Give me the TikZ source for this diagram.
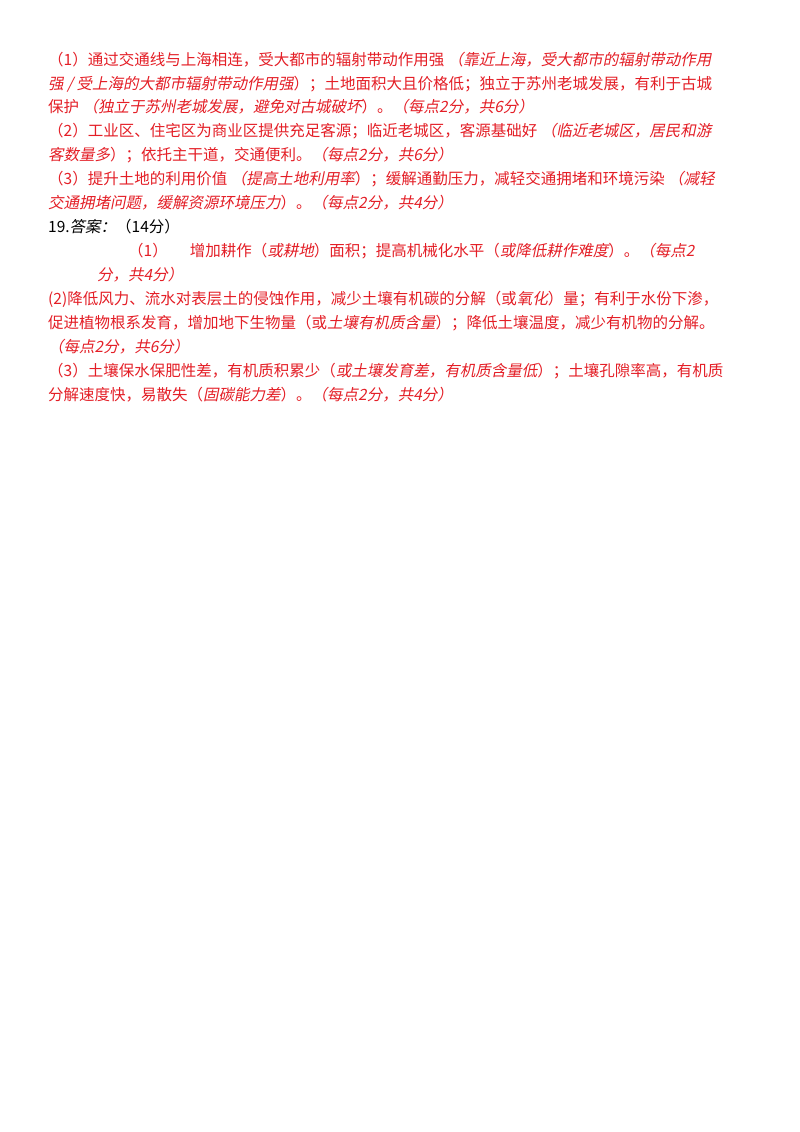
\documentclass[tikz,border=0pt]{standalone}
\usepackage{fontspec}
\setmainfont{Noto Sans CJK SC}
\newfontfamily\cjkup{Noto Sans CJK SC}
\newfontfamily\cjksl[FakeSlant=0.2]{Noto Sans CJK SC}
\definecolor{ansred}{RGB}{228,30,38}
\newcommand{\It}[1]{{\cjksl #1}}
\begin{document}
\begin{tikzpicture}[x=1pt,y=1pt,
  ln/.style={anchor=west,inner sep=0pt,font=\cjkup\fontsize{15.5}{18}\selectfont,text=ansred},
  blk/.style={ln,text=black}]
\useasboundingbox[fill=white] (0,0) rectangle (800,-1132);
\node[ln] (l1) at (48,-60) {（1）通过交通线与上海相连，受大都市的辐射带动作用强 \It{（靠近上海，受大都市的辐射带动作用}};
\node[ln] (l2) at (48,-84) {\It{强 / 受上海的大都市辐射带动作用强}）；土地面积大且价格低；独立于苏州老城发展，有利于古城};
\node[ln] (l3) at (48,-107) {保护 \It{（独立于苏州老城发展，避免对古城破坏}）。\It{（每点2分，共6分）}};
\node[ln] (l4) at (48,-131) {（2）工业区、住宅区为商业区提供充足客源；临近老城区，客源基础好 \It{（临近老城区，居民和游}};
\node[ln] (l5) at (48,-155) {\It{客数量多}）；依托主干道，交通便利。\It{（每点2分，共6分）}};
\node[ln] (l6) at (48,-179) {（3）提升土地的利用价值 \It{（提高土地利用率}）；缓解通勤压力，减轻交通拥堵和环境污染 \It{（减轻}};
\node[ln] (l7) at (48,-203) {\It{交通拥堵问题，缓解资源环境压力}）。\It{（每点2分，共4分）}};
\node[blk] (l8) at (48,-227) {19.\It{答案：}（14分）};
\node[ln] (l9) at (128,-251) {（1）\hspace{22pt}增加耕作（\It{或耕地}）面积；提高机械化水平（\It{或降低耕作难度}）。\It{（每点2}};
\node[ln] (l10) at (97,-275) {\It{分，共4分）}};
\node[ln] (l11) at (48,-299) {(2)降低风力、流水对表层土的侵蚀作用，减少土壤有机碳的分解（或\It{氧化}）量；有利于水份下渗，};
\node[ln] (l12) at (48,-323) {促进植物根系发育，增加地下生物量（或\It{土壤有机质含量}）；降低土壤温度，减少有机物的分解。};
\node[ln] (l13) at (48,-347) {\It{（每点2分，共6分）}};
\node[ln] (l14) at (48,-371) {（3）土壤保水保肥性差，有机质积累少（\It{或土壤发育差，有机质含量低}）；土壤孔隙率高，有机质};
\node[ln] (l15) at (48,-395) {分解速度快，易散失（\It{固碳能力差}）。\It{（每点2分，共4分）}};
\end{tikzpicture}
\end{document}
